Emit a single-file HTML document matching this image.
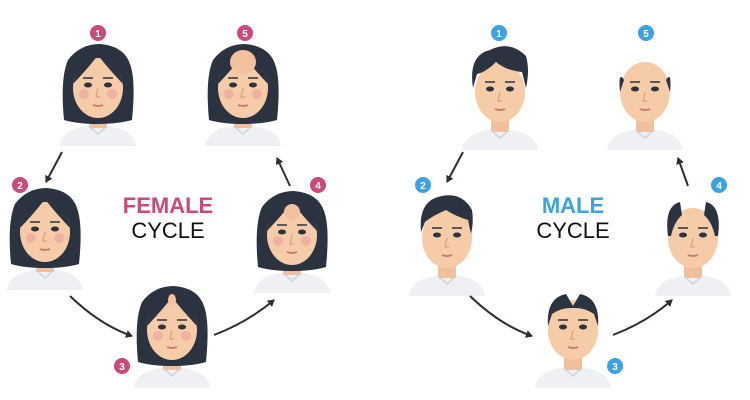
<!DOCTYPE html>
<html><head><meta charset="utf-8"><style>
html,body{margin:0;padding:0;background:#fff;width:750px;height:400px;overflow:hidden}
</style></head><body>
<svg width="750" height="400" viewBox="0 0 750 400" xmlns="http://www.w3.org/2000/svg" font-family="Liberation Sans, sans-serif">
<defs>
<marker id="ah" markerWidth="8" markerHeight="8" refX="6" refY="4" orient="auto" markerUnits="userSpaceOnUse"><path d="M0,0 L7,4 L0,8 Z" fill="#2b2f36"/></marker>
<g id="body">
<path d="M-38,58 Q-36,42 -12,38 L12,38 Q36,42 38,58 Z" fill="#eef0f3"/>
<rect x="-9" y="22" width="18" height="18" fill="#f0bf9c"/>
<path d="M-9,38 L0,46 L9,38" fill="none" stroke="#cfd3d9" stroke-width="1.5"/>
</g>
<g id="face">
<ellipse cx="0" cy="0" rx="25" ry="30" fill="#f6cba8"/>
<ellipse cx="-10" cy="-3" rx="4" ry="2.5" fill="#2b3240"/>
<ellipse cx="10" cy="-3" rx="4" ry="2.5" fill="#2b3240"/>
<path d="M-15,-10 L-5,-10 M5,-10 L15,-10" stroke="#2b3240" stroke-width="1.5"/>
<path d="M0,0 L-2,9 L2,9" fill="none" stroke="#d9a080" stroke-width="1.2"/>
<path d="M-5,17 Q0,19 5,17" stroke="#c77b6a" stroke-width="2" fill="none"/>
</g>
<g id="fem">
<use href="#body"/>
<path d="M-34,32 Q-38,-10 -30,-28 Q-18,-44 2,-44 Q26,-42 32,-24 Q38,-8 34,32 Q20,36 0,36 Q-20,36 -34,32Z" fill="#2b3240"/>
<use href="#face"/>
<path d="M-25,-4 Q-20,-30 0,-33 Q-8,-22 -25,-4Z M25,-4 Q20,-30 0,-33 Q8,-22 25,-4Z" fill="#2b3240"/>
<circle cx="-14" cy="6" r="5" fill="#f0a5a0" opacity="0.7"/>
<circle cx="14" cy="6" r="5" fill="#f0a5a0" opacity="0.7"/>
</g>
<g id="mal">
<use href="#body"/>
<use href="#face"/>
</g>
</defs>

<!-- FEMALE -->
<use href="#fem" x="98" y="88"/>
<use href="#fem" x="243" y="88"/>
<ellipse cx="243" cy="62" rx="13" ry="12" fill="#f2c19e"/>
<use href="#fem" x="45" y="232"/>
<use href="#fem" x="292" y="235"/>
<ellipse cx="292" cy="212" rx="8" ry="8" fill="#f2c19e"/>
<use href="#fem" x="172" y="330"/>
<ellipse cx="172" cy="300" rx="4" ry="6" fill="#f2c19e"/>

<!-- MALE -->
<use href="#mal" x="500" y="92"/>
<path d="M473,88 Q468,55 490,50 Q510,40 526,56 Q530,70 526,88 L522,72 Q505,70 496,62 Q486,72 477,74Z" fill="#2b3240"/>
<use href="#mal" x="645" y="92"/>
<path d="M620,92 Q618,70 624,80Z M670,92 Q672,70 666,80Z" fill="#2b3240"/>
<use href="#mal" x="447" y="238"/>
<path d="M421,232 Q418,200 442,196 Q462,192 472,210 Q474,222 471,234 L468,220 Q455,216 446,210 Q432,216 425,222Z" fill="#2b3240"/>
<use href="#mal" x="693" y="238"/>
<path d="M668,236 Q664,206 680,202 L682,215 Q674,222 671,236Z M718,236 Q722,206 706,202 L704,215 Q712,222 715,236Z" fill="#2b3240"/>
<use href="#mal" x="573" y="330"/>
<path d="M548,326 Q546,298 566,294 L573,306 L580,294 Q600,298 598,326 L594,314 Q585,308 576,308 L570,308 Q561,308 552,314Z" fill="#2b3240"/>

<!-- arrows -->
<g stroke="#2b2f36" stroke-width="2" fill="none" marker-end="url(#ah)">
<path d="M62,152 L46,182"/>
<path d="M70,296 Q100,325 132,336"/>
<path d="M214,335 Q248,322 274,300"/>
<path d="M290,186 L277,158"/>
<path d="M463,152 L447,182"/>
<path d="M470,296 Q500,325 532,336"/>
<path d="M613,335 Q647,322 672,300"/>
<path d="M688,186 L678,158"/>
</g>

<!-- badges -->
<g fill="#c94b7b"><circle cx="98" cy="33" r="8"/><circle cx="245" cy="33" r="8"/><circle cx="20" cy="185" r="8"/><circle cx="318" cy="185" r="8"/><circle cx="122" cy="366" r="8"/></g>
<g fill="#3ea1e0"><circle cx="499" cy="33" r="8"/><circle cx="646" cy="33" r="8"/><circle cx="423" cy="185" r="8"/><circle cx="719" cy="185" r="8"/><circle cx="615" cy="366" r="8"/></g>
<g fill="#fff" font-size="10" font-weight="bold" text-anchor="middle">
<text x="98" y="37">1</text><text x="245" y="37">5</text><text x="20" y="189">2</text><text x="318" y="189">4</text><text x="122" y="370">3</text>
<text x="499" y="37">1</text><text x="646" y="37">5</text><text x="423" y="189">2</text><text x="719" y="189">4</text><text x="615" y="370">3</text>
</g>

<g font-size="22" text-anchor="middle">
<text x="168" y="213" fill="#c94b7b" font-weight="bold">FEMALE</text>
<text x="168" y="238" fill="#111">CYCLE</text>
<text x="573" y="213" fill="#3ea1e0" font-weight="bold">MALE</text>
<text x="573" y="238" fill="#111">CYCLE</text>
</g>
</svg>
</body></html>
